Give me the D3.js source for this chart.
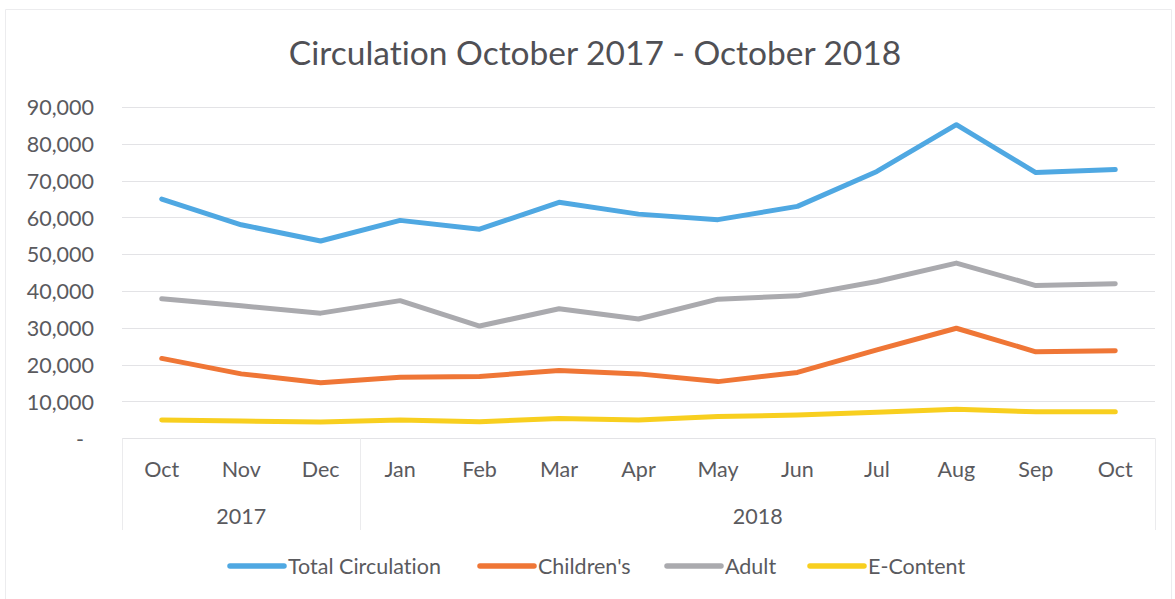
<!DOCTYPE html>
<html>
<head>
<meta charset="utf-8">
<script src="https://cdn.jsdelivr.net/npm/d3@7"></script>
<style>
  html, body { margin: 0; padding: 0; background: #ffffff; }
  svg { display: block; font-family: Lato, "Open Sans", sans-serif; font-variant-ligatures: none; }
</style>
</head>
<body>
<svg id="chart" width="1175" height="599"></svg>
<script>
// Monthly circulation, October 2017 through October 2018
const months = ["Oct", "Nov", "Dec", "Jan", "Feb", "Mar", "Apr", "May", "Jun", "Jul", "Aug", "Sep", "Oct"];
const years = [
  { label: "2017", from: 0, to: 2 },
  { label: "2018", from: 3, to: 12 }
];
const totalCirculation = [65000, 58000, 53600, 59200, 56800, 64100, 60900, 59400, 63000, 72500, 85200, 72200, 73000];
const childrens        = [21700, 17500, 15100, 16600, 16800, 18400, 17500, 15400, 17900, 24000, 29900, 23500, 23800];
const adult            = [37900, 36000, 34000, 37400, 30500, 35200, 32400, 37800, 38700, 42600, 47600, 41500, 42000];
const eContent         = [5000, 4700, 4400, 5000, 4500, 5400, 5000, 5900, 6300, 7100, 7900, 7200, 7200];
const yTicks = [0, 10000, 20000, 30000, 40000, 50000, 60000, 70000, 80000, 90000];

const series = [
  { name: "Total Circulation", values: totalCirculation, color: "#4fa8e2" },
  { name: "Children's",        values: childrens,        color: "#ef7636" },
  { name: "Adult",             values: adult,            color: "#aaaaae" },
  { name: "E-Content",         values: eContent,         color: "#f8cf1f" }
];

const svg = d3.select("#chart");
const textColor = "#5a5a5e";
const gridColor = "#e3e3e6";
const labelSize = 21.5;

const plot = { left: 122, right: 1155, top: 107, bottom: 438.3 };

const x = d3.scaleBand()
  .domain(d3.range(months.length))
  .range([plot.left, plot.right]);
const y = d3.scaleLinear()
  .domain([0, 90000])
  .range([plot.bottom, plot.top]);

// outer chart frame
svg.append("path")
  .attr("d", "M5.5,605 V9.5 H1171.5 V605")
  .attr("fill", "none")
  .attr("stroke", "#ececee")
  .attr("stroke-width", 1);

// title
svg.append("text")
  .attr("x", 595)
  .attr("y", 65)
  .attr("text-anchor", "middle")
  .attr("font-size", 33.5)
  .attr("fill", "#505055")
  .text("Circulation October 2017 - October 2018");

// horizontal gridlines
svg.append("g")
  .selectAll("line")
  .data(yTicks)
  .join("line")
  .attr("x1", plot.left)
  .attr("x2", plot.right)
  .attr("y1", d => Math.round(y(d)) + 0.5)
  .attr("y2", d => Math.round(y(d)) + 0.5)
  .attr("stroke", gridColor)
  .attr("stroke-width", 1);

// value axis (accounting style: zero shown as a dash)
const yAxis = svg.append("g")
  .attr("transform", "translate(94,0)")
  .call(d3.axisLeft(y)
    .tickValues(yTicks)
    .tickSize(0)
    .tickPadding(0)
    .tickFormat(d => d === 0 ? "-" : d3.format(",")(d)));
yAxis.select(".domain").remove();
yAxis.selectAll("text")
  .attr("font-family", "Lato, 'Open Sans', sans-serif")
  .attr("font-size", labelSize)
  .attr("fill", textColor)
  .attr("dy", "0.36em")
  .attr("dx", d => d === 0 ? -10 : 0);

// category axis: month labels
const xAxis = svg.append("g")
  .attr("transform", `translate(0,${plot.bottom})`)
  .call(d3.axisBottom(x)
    .tickSize(0)
    .tickPadding(0)
    .tickFormat(i => months[i]));
xAxis.select(".domain").remove();
xAxis.selectAll("text")
  .attr("font-family", "Lato, 'Open Sans', sans-serif")
  .attr("font-size", labelSize)
  .attr("fill", textColor)
  .attr("dy", 0)
  .attr("y", 39);

// year group separators
const sepX = [x(0), x(years[1].from), x(months.length - 1) + x.bandwidth()];
svg.append("g")
  .selectAll("line")
  .data(sepX)
  .join("line")
  .attr("x1", d => Math.round(d) + 0.5)
  .attr("x2", d => Math.round(d) + 0.5)
  .attr("y1", plot.bottom)
  .attr("y2", 530)
  .attr("stroke", "#ebebed")
  .attr("stroke-width", 1);

// year labels
svg.append("g")
  .selectAll("text")
  .data(years)
  .join("text")
  .attr("x", d => (x(d.from) + x(d.to) + x.bandwidth()) / 2)
  .attr("y", 524)
  .attr("text-anchor", "middle")
  .attr("font-size", labelSize)
  .attr("fill", textColor)
  .text(d => d.label);

// series lines
const line = d3.line()
  .x((d, i) => x(i) + x.bandwidth() / 2)
  .y(d => y(d));

svg.append("g")
  .selectAll("path")
  .data(series)
  .join("path")
  .attr("d", d => line(d.values))
  .attr("fill", "none")
  .attr("stroke", d => d.color)
  .attr("stroke-width", 5)
  .attr("stroke-linejoin", "round")
  .attr("stroke-linecap", "round");

// legend
const legendX = [230, 480, 667, 810];
const legend = svg.append("g")
  .selectAll("g")
  .data(series)
  .join("g")
  .attr("transform", (d, i) => `translate(${legendX[i]},566)`);
legend.append("line")
  .attr("x1", 0)
  .attr("x2", 54)
  .attr("y1", 0)
  .attr("y2", 0)
  .attr("stroke", d => d.color)
  .attr("stroke-width", 5.5)
  .attr("stroke-linecap", "round");
legend.append("text")
  .attr("x", 58)
  .attr("y", 0)
  .attr("dy", "0.36em")
  .attr("font-size", labelSize)
  .attr("fill", textColor)
  .text(d => d.name);
</script>
</body>
</html>
